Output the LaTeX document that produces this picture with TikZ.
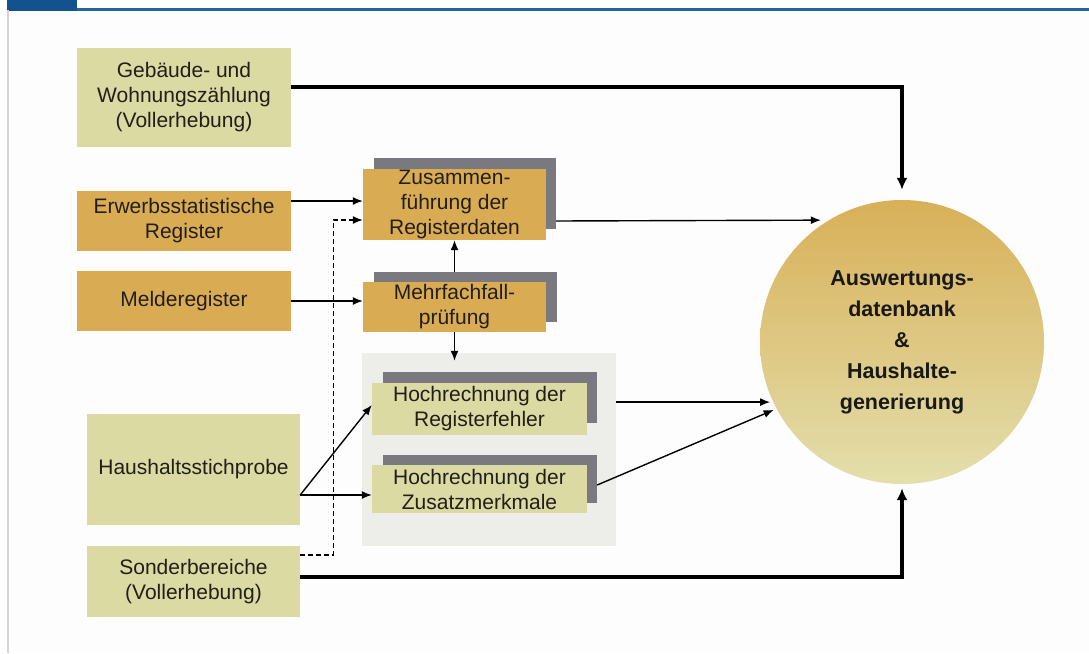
\documentclass[tikz,border=0pt]{standalone}
\usepackage{fontspec}
\setmainfont{Liberation Sans}
\usetikzlibrary{arrows.meta,calc}
\definecolor{cPale}{RGB}{218,218,162}
\definecolor{cGold}{RGB}{217,172,84}
\definecolor{cShad}{RGB}{122,121,128}
\definecolor{cPanel}{RGB}{237,237,233}
\definecolor{cText}{RGB}{34,30,26}
\definecolor{cBlue}{RGB}{18,82,142}
\definecolor{cLine}{RGB}{36,100,165}
\definecolor{cGrayL}{RGB}{212,212,212}
\definecolor{cBg}{RGB}{253,253,253}
\definecolor{cCircTop}{RGB}{216,176,88}
\definecolor{cCircBot}{RGB}{227,223,172}
\begin{document}
\begin{tikzpicture}[x=1pt,y=-1pt,
  box/.style={rectangle, inner sep=0pt, align=center, font=\fontsize{21}{25}\selectfont, text=cText},
  pale/.style={box, fill=cPale},
  gold/.style={box, fill=cGold},
  shad/.style={rectangle, inner sep=0pt, fill=cShad},
  arr/.style={line width=1.4pt, -{Latex[length=10pt,width=8pt]}},
  thickarr/.style={line width=4pt, -{Latex[length=12pt,width=11pt]}},
  dasharr/.style={arr, dash pattern=on 5pt off 3pt}]
\useasboundingbox (0,0) rectangle (1089,653);
% background and frame
\fill[white] (0,0) rectangle (1089,653);
\fill[cBg] (8,11) rectangle (1089,653);
\fill[cBlue] (7,0) rectangle (77,10.5);
\draw[cLine, line width=2.5pt] (77,9.5) -- (1089,9.5);
\draw[cGrayL, line width=1.8pt] (8,10) -- (8,653);
% panel
\node[rectangle, inner sep=0pt, fill=cPanel, minimum width=254pt, minimum height=193pt] (panel) at (489,449.5) {};
% left boxes
\node[pale, minimum width=214pt, minimum height=99pt] (geb) at (184,97.5) {Gebäude- und\\Wohnungszählung\\(Vollerhebung)};
\node[gold, minimum width=214pt, minimum height=60pt] (erw) at (184,221) {Erwerbsstatistische\\Register};
\node[gold, minimum width=214pt, minimum height=60pt] (mel) at (184,301) {Melderegister};
\node[pale, minimum width=213pt, minimum height=111pt] (hh) at (193.5,469.5) {Haushaltsstichprobe};
\node[pale, minimum width=213pt, minimum height=71pt] (son) at (193.5,581.5) {Sonderbereiche\\(Vollerhebung)};
% middle boxes with shadows
\node[shad, minimum width=182pt, minimum height=71pt] (zusS) at (465,193.5) {};
\node[gold, minimum width=183pt, minimum height=71pt] (zus) at (454.5,204.5) {Zusammen-\\führung der\\Registerdaten};
\node[shad, minimum width=183pt, minimum height=50pt] (mehS) at (465.5,297) {};
\node[gold, minimum width=183pt, minimum height=50pt] (meh) at (454.5,307) {Mehrfachfall-\\prüfung};
\node[shad, minimum width=214pt, minimum height=51pt] (regS) at (490,397.5) {};
\node[pale, minimum width=215pt, minimum height=52pt] (reg) at (479.5,409) {Hochrechnung der\\Registerfehler};
\node[shad, minimum width=214pt, minimum height=48pt] (zmS) at (490,479) {};
\node[pale, minimum width=215pt, minimum height=48pt] (zm) at (479.5,489) {Hochrechnung der\\Zusatzmerkmale};
% circle
\node[circle, minimum size=284pt, inner sep=0pt, top color=cCircTop, bottom color=cCircBot,
  font=\bfseries\fontsize{21.5}{31}\selectfont, align=center, text=black!90] (circ) at (902,342)
  {Auswertungs-\\datenbank\\\&\\Haushalte-\\generierung};
% connectors
\draw[thickarr, shorten >=10pt] ([yshift=10.5pt]geb.east) -| (circ.north);
\draw[thickarr, shorten >=4pt] ([yshift=4.5pt]son.east) -| (circ.south);
\draw[arr] ([yshift=20pt]erw.east) -- ([yshift=20pt]erw.east -| zus.west);
\draw[dasharr] ([yshift=26.5pt]son.east) -- ++(33,0) |- ([yshift=-15.5pt]zus.west);
\draw[arr] (mel.east) -- (mel.east -| meh.west);
\draw[arr] (zus.south |- mehS.north) -- (zus.south);
\draw[arr] (meh.south) -- ($(meh.south |- panel.north)+(0,8)$);
\draw[arr, shorten >=8pt] ([yshift=-27.5pt]zusS.east) -- (circ.121.5);
\draw[arr, shorten >=3pt] (panel.east |- circ.205) -- (circ.205);
\draw[arr, shorten >=3pt] ([yshift=-6pt]zmS.east) -- (circ.208);
\draw[arr] ([yshift=-25.5pt]hh.east) -- ([yshift=4pt]reg.west);
\draw[arr] ([yshift=-25.5pt]hh.east) -- ([yshift=-25.5pt]hh.east -| zm.west);
\end{tikzpicture}
\end{document}
